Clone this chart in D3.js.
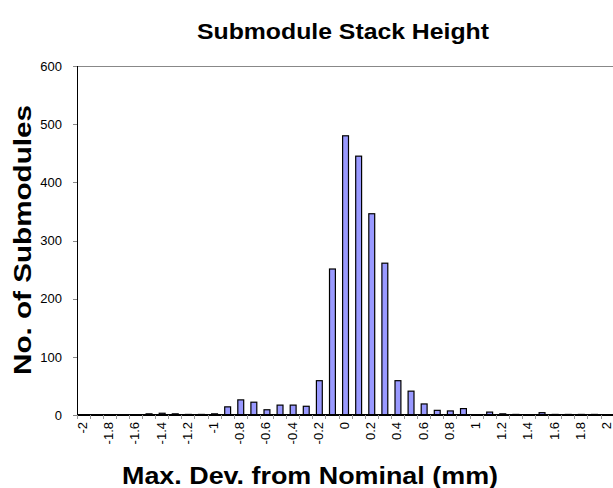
<!DOCTYPE html>
<html>
<head>
<meta charset="utf-8">
<script src="https://cdn.jsdelivr.net/npm/d3@7"></script>
<style>
body { margin:0; background:#fff; }
svg text { font-family: "Liberation Sans", Arial, sans-serif; }
.axis path, .axis line { shape-rendering: crispEdges; }
</style>
</head>
<body>
<div id="chart"></div>
<script>
// categories: max. deviation from nominal (mm)
var devs = ["-2","-1.9","-1.8","-1.7","-1.6","-1.5","-1.4","-1.3","-1.2","-1.1","-1",
  "-0.9","-0.8","-0.7","-0.6","-0.5","-0.4","-0.3","-0.2","-0.1","0",
  "0.1","0.2","0.3","0.4","0.5","0.6","0.7","0.8","0.9","1",
  "1.1","1.2","1.3","1.4","1.5","1.6","1.7","1.8","1.9","2"];
var counts = [0,0,0,0,0,2,3,2,1,1,2,
  14,26,22,9,17,17,15,59,251,480,
  445,346,261,59,41,19,8,7,11,0,
  5,2,1,0,4,1,1,1,1,0];
var yTicks = [0,100,200,300,400,500,600];

var W = 613, H = 488;
var margin = {top: 66, left: 77};
var h = 415 - margin.top;
var w = 41 * 13.1;

var svg = d3.select("#chart").append("svg")
  .attr("width", W).attr("height", H);

var g = svg.append("g")
  .attr("transform", "translate(" + margin.left + "," + margin.top + ")");

var x = d3.scaleBand().domain(devs).range([0, w]).paddingInner(0.55).paddingOuter(0.275);
var y = d3.scaleLinear().domain([0, 600]).range([h, 0]);

// plot area border (top/right gray)
g.append("line").attr("x1", 0).attr("x2", w).attr("y1", 0.5).attr("y2", 0.5)
  .attr("stroke", "#888").attr("stroke-width", 1);
g.append("line").attr("x1", w).attr("x2", w).attr("y1", 0).attr("y2", h)
  .attr("stroke", "#888").attr("stroke-width", 1);

// bars
g.selectAll(".bar").data(counts).enter().append("rect")
  .attr("class", "bar")
  .attr("x", function(d, i) { return x(devs[i]); })
  .attr("width", x.bandwidth())
  .attr("y", function(d) { return y(d); })
  .attr("height", function(d) { return h - y(d); })
  .style("fill", "#9999ff")
  .style("stroke", "#000")
  .style("stroke-width", 1.2);

// y axis
var yAxis = d3.axisLeft(y).tickValues(yTicks).tickSize(4).tickPadding(11);
var ya = g.append("g").attr("class", "y axis").call(yAxis);
ya.select(".domain").attr("stroke", "#000").attr("stroke-width", 1.5);
ya.selectAll(".tick line").attr("stroke", "#888");
ya.selectAll("text").style("font-size", "13px").attr("fill", "#000");

// x axis: ticks at category boundaries, labels every other category
var xa = g.append("g").attr("class", "x axis")
  .attr("transform", "translate(0," + h + ")");
xa.append("line").attr("x1", 0).attr("x2", w).attr("y1", 0).attr("y2", 0)
  .attr("stroke", "#000").attr("stroke-width", 1.5);
var step = x.step();
xa.selectAll(".tk").data(devs.concat([""])).enter().append("line")
  .attr("class", "tk")
  .attr("x1", function(d, i) { return i * step; })
  .attr("x2", function(d, i) { return i * step; })
  .attr("y1", 0).attr("y2", 4)
  .attr("stroke", "#999");
xa.selectAll(".lbl").data(devs.filter(function(d, i) { return i % 2 === 0; })).enter()
  .append("text")
  .attr("class", "lbl")
  .attr("transform", function(d) {
    return "translate(" + (x(d) + x.bandwidth() / 2 + 3.5) + ",7) rotate(-90)";
  })
  .style("text-anchor", "end")
  .style("font-size", "13px")
  .text(function(d) { return d; });

// titles
svg.append("text").attr("x", 343).attr("y", 39)
  .attr("textLength", 292).attr("lengthAdjust", "spacingAndGlyphs")
  .style("text-anchor", "middle").style("font-size", "22px").style("font-weight", "bold")
  .text("Submodule Stack Height");
svg.append("text").attr("x", 310).attr("y", 484)
  .attr("textLength", 376).attr("lengthAdjust", "spacingAndGlyphs")
  .style("text-anchor", "middle").style("font-size", "23px").style("font-weight", "bold")
  .text("Max. Dev. from Nominal (mm)");
svg.append("text")
  .attr("transform", "translate(31,240) rotate(-90)")
  .attr("textLength", 270).attr("lengthAdjust", "spacingAndGlyphs")
  .style("text-anchor", "middle").style("font-size", "23px").style("font-weight", "bold")
  .text("No. of Submodules");
</script>
</body>
</html>
